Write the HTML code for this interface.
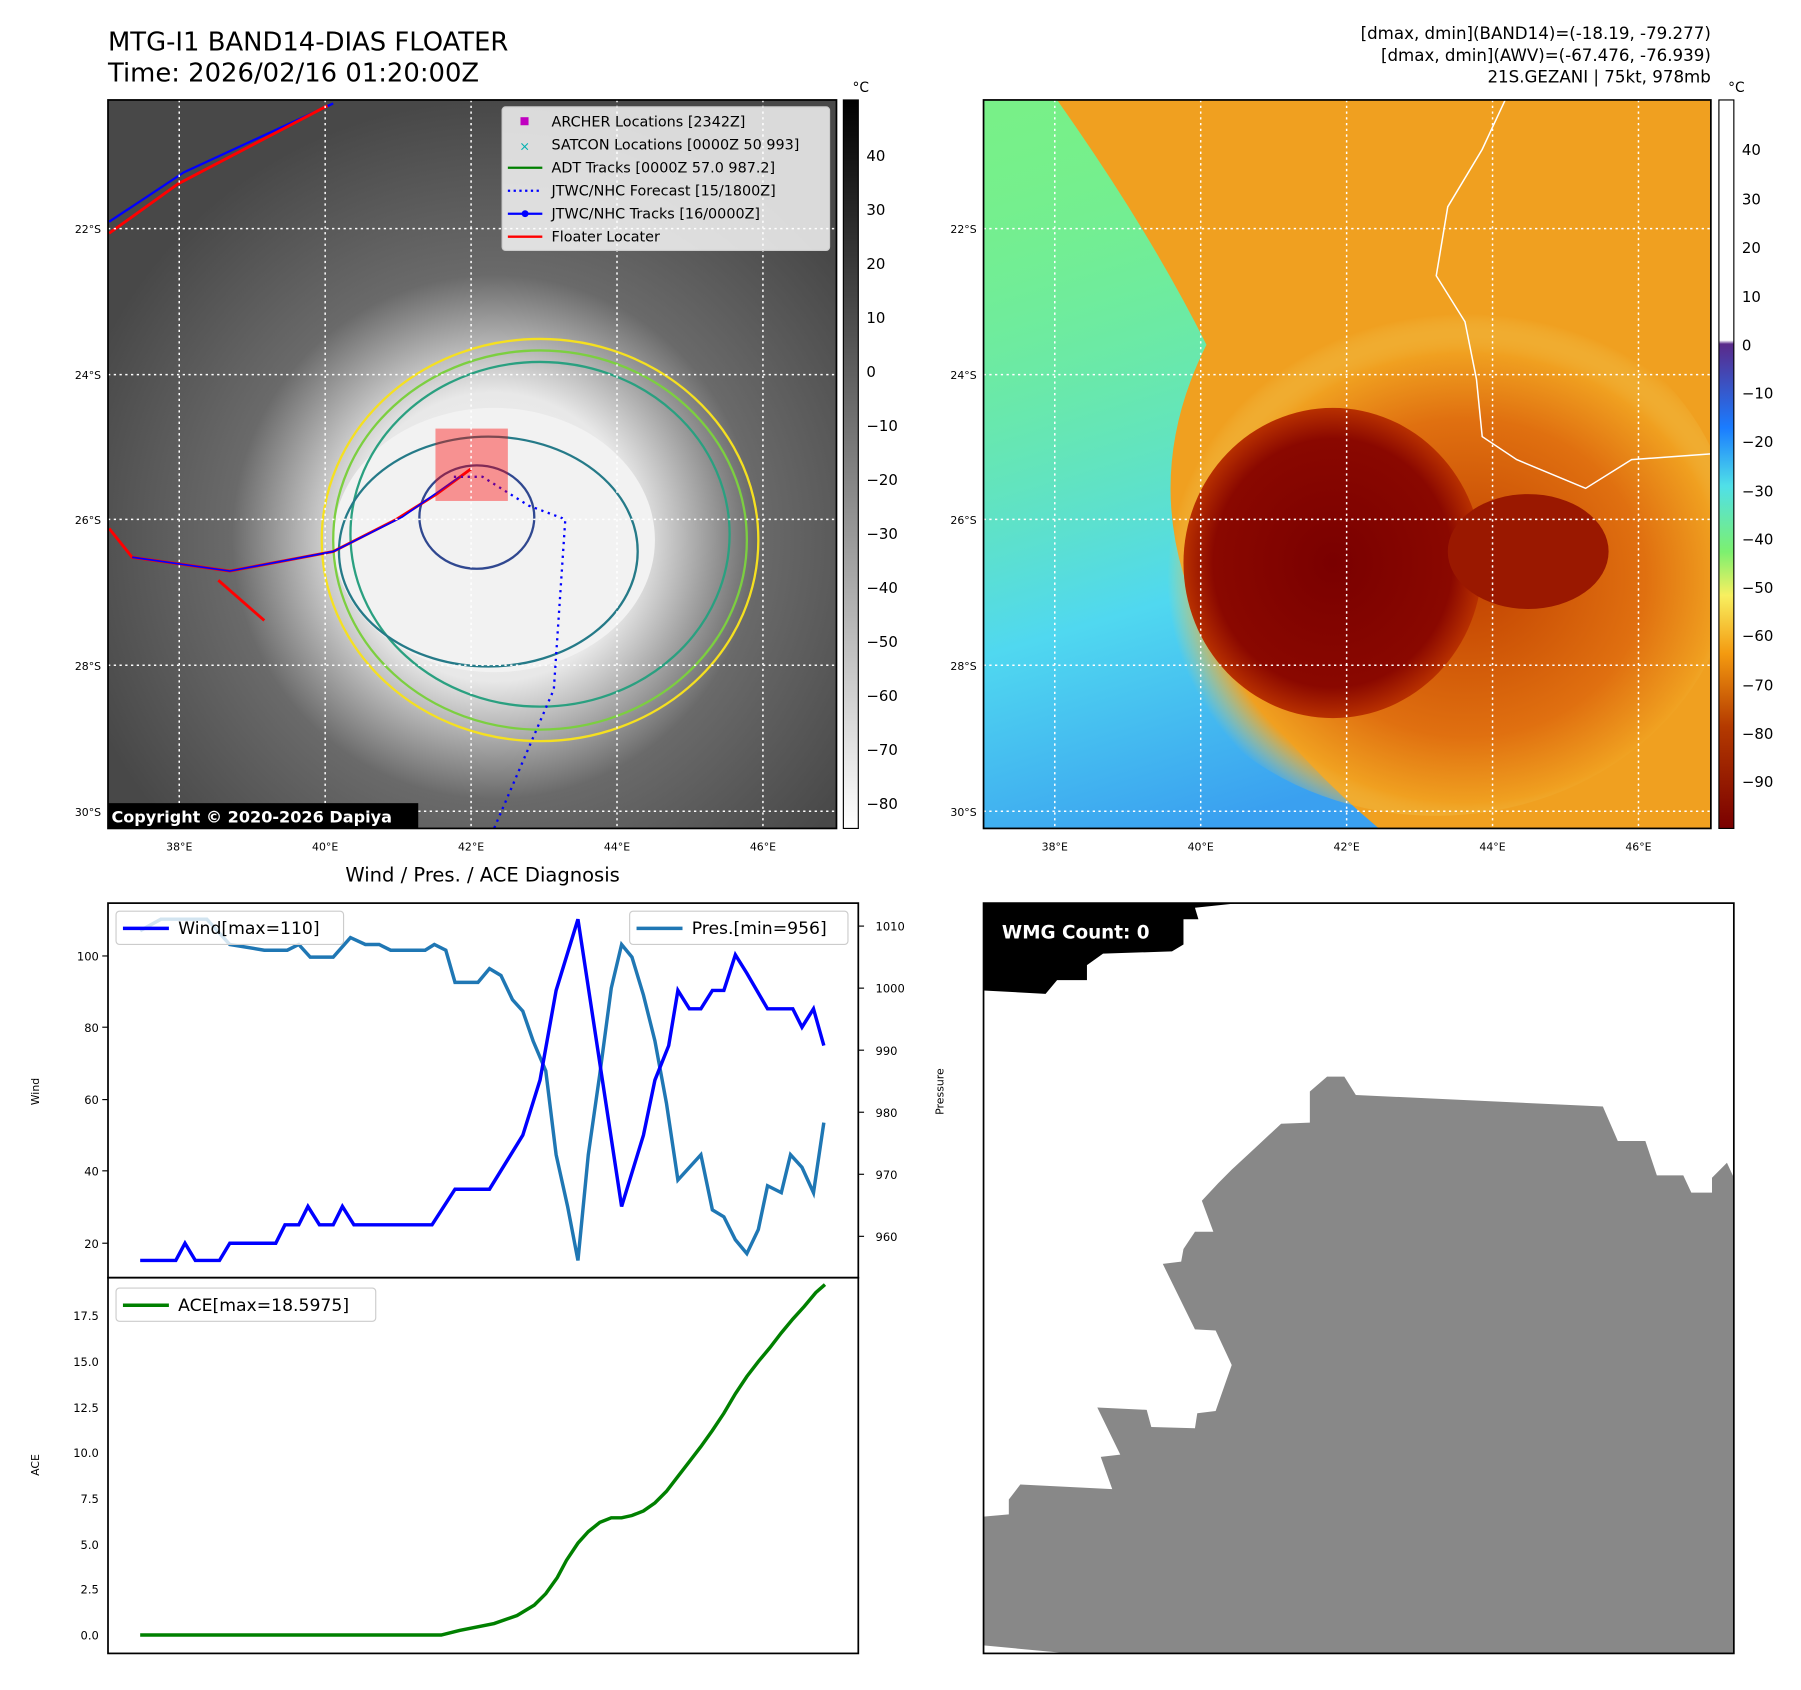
<!DOCTYPE html>
<html><head><meta charset="utf-8"><style>
html,body{margin:0;padding:0;background:#fff;}
svg{display:block;font-family:"DejaVu Sans","Liberation Sans",sans-serif;}
</style></head><body>
<svg width="1801" height="1690" viewBox="0 0 1801 1690" xmlns="http://www.w3.org/2000/svg">
<defs>
<radialGradient id="ir" cx="0.53" cy="0.6" r="0.6">
<stop offset="0" stop-color="#f4f4f4"/><stop offset="0.33" stop-color="#e8e8e8"/><stop offset="0.45" stop-color="#b0b0b0"/><stop offset="0.6" stop-color="#6a6a6a"/><stop offset="1" stop-color="#484848"/>
</radialGradient>
<linearGradient id="gcb" x1="0" y1="0" x2="0" y2="1"><stop offset="0" stop-color="#000"/><stop offset="1" stop-color="#fff"/></linearGradient>
<linearGradient id="ccb" x1="0" y1="0" x2="0" y2="1">
<stop offset="0" stop-color="#fff"/><stop offset="0.33" stop-color="#fff"/><stop offset="0.335" stop-color="#5a2a8a"/><stop offset="0.45" stop-color="#1a7cff"/><stop offset="0.53" stop-color="#50e0e8"/><stop offset="0.62" stop-color="#7cf070"/><stop offset="0.68" stop-color="#f8f060"/><stop offset="0.76" stop-color="#f49a10"/><stop offset="0.86" stop-color="#b43a00"/><stop offset="1" stop-color="#7a0000"/>
</linearGradient>
<radialGradient id="core" cx="0.5" cy="0.5" r="0.5"><stop offset="0" stop-color="#7a0000"/><stop offset="0.8" stop-color="#8a0800"/><stop offset="1" stop-color="#b83000"/></radialGradient>
<radialGradient id="ring" cx="0.55" cy="0.55" r="0.5"><stop offset="0" stop-color="#c04000"/><stop offset="0.6" stop-color="#e07010"/><stop offset="0.85" stop-color="#f0a020"/><stop offset="1" stop-color="#f0d060" stop-opacity="0"/></radialGradient>
<linearGradient id="bl" x1="0" y1="0" x2="0.3" y2="1"><stop offset="0" stop-color="#70f090" stop-opacity="0"/><stop offset="0.7" stop-color="#50d8f0"/><stop offset="1" stop-color="#3aa0f0"/></linearGradient>
<clipPath id="cl"><rect x="94" y="87" width="634" height="634"/></clipPath>
<clipPath id="cr"><rect x="856" y="87" width="633" height="634"/></clipPath>
</defs>
<g transform="scale(1.149)">
<text x="94" y="44" font-size="22.5">MTG-I1 BAND14-DIAS FLOATER</text>
<text x="94" y="71" font-size="22.5">Time: 2026/02/16 01:20:00Z</text>
<g font-size="14.5" text-anchor="end">
<text x="1489" y="34">[dmax, dmin](BAND14)=(-18.19, -79.277)</text>
<text x="1489" y="53">[dmax, dmin](AWV)=(-67.476, -76.939)</text>
<text x="1489" y="72">21S.GEZANI | 75kt, 978mb</text>
</g>
<g clip-path="url(#cl)">
<rect x="94" y="87" width="634" height="634" fill="url(#ir)"/>
<ellipse cx="430" cy="470" rx="140" ry="115" fill="#f2f2f2"/>
<g fill="none" stroke-width="2">
<ellipse cx="470" cy="470" rx="190" ry="175" stroke="#f5e020"/>
<ellipse cx="470" cy="470" rx="180" ry="165" stroke="#7ccf40"/>
<ellipse cx="470" cy="465" rx="165" ry="150" stroke="#2aa080"/>
<ellipse cx="425" cy="480" rx="130" ry="100" stroke="#257a88"/>
<ellipse cx="415" cy="450" rx="50" ry="45" stroke="#304890"/>
</g>
<polyline points="95,193 160,150 290,90" fill="none" stroke="#0000ff" stroke-width="2"/>
<polyline points="95,203 155,160 285,92" fill="none" stroke="#ff0000" stroke-width="2.5"/>
<polyline points="95,460 115,485 200,497 290,480 345,452 380,430 410,408" fill="none" stroke="#ff0000" stroke-width="2.5"/>
<polyline points="115,485 200,497 290,480 350,450 400,415" fill="none" stroke="#0000ff" stroke-width="1.5"/>
<polyline points="190,505 230,540" fill="none" stroke="#ff0000" stroke-width="2.5"/>
<polyline points="395,415 420,415 460,440 492,452 482,600 430,721" fill="none" stroke="#0000ff" stroke-width="2" stroke-dasharray="2,4"/>
<rect x="379" y="373" width="63" height="63" fill="#ff0000" fill-opacity="0.4"/>
</g>
<g stroke="#fff" stroke-width="1.3" stroke-dasharray="2,3">
<line x1="156" y1="87" x2="156" y2="721"/><line x1="283" y1="87" x2="283" y2="721"/><line x1="410" y1="87" x2="410" y2="721"/><line x1="537" y1="87" x2="537" y2="721"/><line x1="664" y1="87" x2="664" y2="721"/>
<line x1="94" y1="199" x2="728" y2="199"/><line x1="94" y1="326" x2="728" y2="326"/><line x1="94" y1="452" x2="728" y2="452"/><line x1="94" y1="579" x2="728" y2="579"/><line x1="94" y1="706" x2="728" y2="706"/>
</g>
<rect x="94" y="87" width="634" height="634" fill="none" stroke="#000" stroke-width="1.5"/>
<rect x="437" y="93" width="285" height="125" fill="#fff" fill-opacity="0.8" stroke="#ccc" rx="3"/>
<g font-size="12.5">
<rect x="453" y="102" width="7" height="7" fill="#c000c0"/><text x="480" y="110">ARCHER Locations [2342Z]</text>
<text x="452" y="131" fill="#00b0b0" font-size="11">×</text><text x="480" y="130">SATCON Locations [0000Z 50 993]</text>
<line x1="442" y1="146" x2="472" y2="146" stroke="#008000" stroke-width="2"/><text x="480" y="150">ADT Tracks [0000Z 57.0 987.2]</text>
<line x1="442" y1="166" x2="472" y2="166" stroke="#0000ff" stroke-width="2" stroke-dasharray="2,3"/><text x="480" y="170">JTWC/NHC Forecast [15/1800Z]</text>
<line x1="442" y1="186" x2="472" y2="186" stroke="#0000ff" stroke-width="2"/><circle cx="457" cy="186" r="3" fill="#0000ff"/><text x="480" y="190">JTWC/NHC Tracks [16/0000Z]</text>
<line x1="442" y1="206" x2="472" y2="206" stroke="#ff0000" stroke-width="2"/><text x="480" y="210">Floater Locater</text>
</g>
<rect x="94" y="699" width="270" height="22" fill="#000"/>
<text x="97" y="716" font-size="14" font-weight="bold" fill="#fff">Copyright © 2020-2026 Dapiya</text>
<g font-size="9.5" text-anchor="end">
<text x="88" y="203">22°S</text><text x="88" y="330">24°S</text><text x="88" y="456">26°S</text><text x="88" y="583">28°S</text><text x="88" y="710">30°S</text>
<text x="850" y="203">22°S</text><text x="850" y="330">24°S</text><text x="850" y="456">26°S</text><text x="850" y="583">28°S</text><text x="850" y="710">30°S</text>
</g>
<g font-size="9.5" text-anchor="middle">
<text x="156" y="740">38°E</text><text x="283" y="740">40°E</text><text x="410" y="740">42°E</text><text x="537" y="740">44°E</text><text x="664" y="740">46°E</text>
<text x="918" y="740">38°E</text><text x="1045" y="740">40°E</text><text x="1172" y="740">42°E</text><text x="1299" y="740">44°E</text><text x="1426" y="740">46°E</text>
</g>
<rect x="734" y="87" width="13" height="634" fill="url(#gcb)" stroke="#000"/>
<text x="742" y="80" font-size="12">°C</text>
<g font-size="13">
<text x="754" y="140">40</text><text x="754" y="187">30</text><text x="754" y="234">20</text><text x="754" y="281">10</text><text x="754" y="328">0</text><text x="754" y="375">−10</text><text x="754" y="422">−20</text><text x="754" y="469">−30</text><text x="754" y="516">−40</text><text x="754" y="563">−50</text><text x="754" y="610">−60</text><text x="754" y="657">−70</text><text x="754" y="704">−80</text>
</g>
<g clip-path="url(#cr)">
<rect x="856" y="87" width="633" height="634" fill="#78f088"/>
<rect x="856" y="87" width="633" height="634" fill="url(#bl)"/>
<path d="M920,87 L1489,87 L1489,721 L1200,721 Q1080,620 1030,500 Q1000,400 1050,300 Q1000,200 920,87Z" fill="#f0a020"/>
<ellipse cx="1250" cy="480" rx="260" ry="230" fill="url(#ring)"/>
<ellipse cx="1160" cy="490" rx="130" ry="135" fill="url(#core)"/>
<ellipse cx="1330" cy="480" rx="70" ry="50" fill="#9a1800"/>
</g>
<g stroke="#fff" stroke-width="1.3" stroke-dasharray="2,3">
<line x1="918" y1="87" x2="918" y2="721"/><line x1="1045" y1="87" x2="1045" y2="721"/><line x1="1172" y1="87" x2="1172" y2="721"/><line x1="1299" y1="87" x2="1299" y2="721"/><line x1="1426" y1="87" x2="1426" y2="721"/>
<line x1="856" y1="199" x2="1489" y2="199"/><line x1="856" y1="326" x2="1489" y2="326"/><line x1="856" y1="452" x2="1489" y2="452"/><line x1="856" y1="579" x2="1489" y2="579"/><line x1="856" y1="706" x2="1489" y2="706"/>
</g>
<polyline points="1310,87 1290,130 1260,180 1250,240 1275,280 1285,330 1290,380 1320,400 1380,425 1420,400 1489,395" fill="none" stroke="#fff" stroke-width="1.3"/>
<rect x="856" y="87" width="633" height="634" fill="none" stroke="#000" stroke-width="1.5"/>
<rect x="1496" y="87" width="13" height="634" fill="url(#ccb)" stroke="#000"/>
<text x="1504" y="80" font-size="12">°C</text>
<g font-size="13">
<text x="1516" y="135">40</text><text x="1516" y="178">30</text><text x="1516" y="220">20</text><text x="1516" y="263">10</text><text x="1516" y="305">0</text><text x="1516" y="347">−10</text><text x="1516" y="389">−20</text><text x="1516" y="432">−30</text><text x="1516" y="474">−40</text><text x="1516" y="516">−50</text><text x="1516" y="558">−60</text><text x="1516" y="601">−70</text><text x="1516" y="643">−80</text><text x="1516" y="685">−90</text>
</g>
<text x="420" y="767" font-size="17" text-anchor="middle">Wind / Pres. / ACE Diagnosis</text>
<rect x="94" y="786" width="653" height="326" fill="none" stroke="#000" stroke-width="1.5"/>
<rect x="94" y="1112" width="653" height="327" fill="none" stroke="#000" stroke-width="1.5"/>
<polyline fill="none" stroke="#1f77b4" stroke-width="3" points="122,810 140,800 180,800 200,822 230,827 250,827 260,822 270,833 290,833 305,816 318,822 330,822 340,827 370,827 378,822 388,827 396,855 416,855 426,843 436,849 446,870 455,880 464,906 475,932 484,1005 494,1050 503,1097 512,1005 522,935 532,860 541,822 550,833 560,866 570,906 580,960 590,1027 600,1016 610,1005 620,1053 630,1059 640,1079 650,1091 660,1070 668,1032 680,1038 688,1005 698,1016 708,1038 717,977"/>
<polyline fill="none" stroke="#0000ff" stroke-width="3" points="122,1097 153,1097 161,1082 170,1097 191,1097 200,1082 240,1082 248,1066 260,1066 268,1050 278,1066 290,1066 298,1050 308,1066 376,1066 396,1035 426,1035 455,988 470,940 484,862 503,800 522,925 541,1050 560,988 570,940 582,910 590,862 600,878 610,878 620,862 630,862 640,831 650,847 668,878 690,878 698,894 708,878 717,910"/>
<polyline fill="none" stroke="#008000" stroke-width="3" points="122,1423 384,1423 400,1419 430,1413 450,1406 465,1397 475,1387 485,1373 493,1358 503,1343 512,1333 522,1325 532,1321 541,1321 550,1319 560,1315 570,1308 580,1298 590,1285 600,1272 610,1259 620,1245 630,1230 640,1213 650,1198 660,1185 670,1173 680,1160 690,1148 700,1137 710,1125 718,1118"/>
<g stroke="#000">
<line x1="89" y1="1082" x2="94" y2="1082"/><line x1="89" y1="1019" x2="94" y2="1019"/><line x1="89" y1="957" x2="94" y2="957"/><line x1="89" y1="894" x2="94" y2="894"/><line x1="89" y1="832" x2="94" y2="832"/>
<line x1="747" y1="1076" x2="752" y2="1076"/><line x1="747" y1="1022" x2="752" y2="1022"/><line x1="747" y1="968" x2="752" y2="968"/><line x1="747" y1="914" x2="752" y2="914"/><line x1="747" y1="860" x2="752" y2="860"/><line x1="747" y1="806" x2="752" y2="806"/>
</g>
<g font-size="10" text-anchor="end">
<text x="86" y="1086">20</text><text x="86" y="1023">40</text><text x="86" y="961">60</text><text x="86" y="898">80</text><text x="86" y="836">100</text>
<text x="86" y="1427">0.0</text><text x="86" y="1387">2.5</text><text x="86" y="1348">5.0</text><text x="86" y="1308">7.5</text><text x="86" y="1268">10.0</text><text x="86" y="1229">12.5</text><text x="86" y="1189">15.0</text><text x="86" y="1149">17.5</text>
</g>
<g font-size="10">
<text x="762" y="1080">960</text><text x="762" y="1026">970</text><text x="762" y="972">980</text><text x="762" y="918">990</text><text x="762" y="864">1000</text><text x="762" y="810">1010</text>
</g>
<text transform="translate(34,950) rotate(-90)" font-size="9.5" text-anchor="middle">Wind</text>
<text transform="translate(34,1275) rotate(-90)" font-size="9.5" text-anchor="middle">ACE</text>
<text transform="translate(821,950) rotate(-90)" font-size="9.5" text-anchor="middle">Pressure</text>
<rect x="101" y="793" width="198" height="29" fill="#fff" fill-opacity="0.8" stroke="#ccc" rx="3"/>
<line x1="107" y1="808" x2="147" y2="808" stroke="#0000ff" stroke-width="3"/><text x="155" y="813" font-size="15">Wind[max=110]</text>
<rect x="548" y="793" width="190" height="29" fill="#fff" fill-opacity="0.8" stroke="#ccc" rx="3"/>
<line x1="554" y1="808" x2="594" y2="808" stroke="#1f77b4" stroke-width="3"/><text x="602" y="813" font-size="15">Pres.[min=956]</text>
<rect x="101" y="1121" width="226" height="29" fill="#fff" fill-opacity="0.8" stroke="#ccc" rx="3"/>
<line x1="107" y1="1136" x2="147" y2="1136" stroke="#008000" stroke-width="3"/><text x="155" y="1141" font-size="15">ACE[max=18.5975]</text>
<rect x="856" y="786" width="653" height="653" fill="#fff"/>
<polygon fill="#888" points="856,1320 878,1318 878,1305 888,1292 968,1296 958,1268 975,1266 955,1225 998,1227 1002,1242 1040,1243 1042,1230 1058,1228 1072,1188 1058,1158 1040,1157 1012,1100 1028,1098 1030,1087 1040,1072 1056,1072 1046,1045 1060,1030 1072,1018 1086,1005 1100,992 1115,978 1140,977 1140,950 1155,937 1170,937 1180,953 1395,963 1408,993 1432,993 1442,1023 1465,1023 1472,1038 1490,1038 1490,1025 1503,1012 1509,1025 1509,1439 930,1439 856,1432"/>
<polygon fill="#000" points="856,786 1078,786 1040,790 1043,800 1030,800 1030,822 1020,828 960,830 946,840 946,853 920,853 910,865 856,862"/>
<text x="872" y="817" font-size="16" font-weight="bold" fill="#fff">WMG Count: 0</text>
<rect x="856" y="786" width="653" height="653" fill="none" stroke="#000" stroke-width="1.5"/>
</g>
</svg>
</body></html>
